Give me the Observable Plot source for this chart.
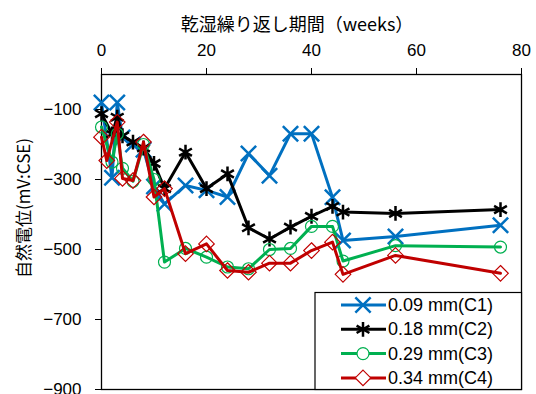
<!DOCTYPE html>
<html>
<head>
<meta charset="utf-8">
<script src="https://cdn.jsdelivr.net/npm/d3@7"></script>
<script src="https://cdn.jsdelivr.net/npm/@observablehq/plot@0.6"></script>
<style>
  body { margin: 0; background: white; }
  #chart { width: 536px; height: 394px; }
</style>
</head>
<body>
<div id="chart"></div>
<script>
const xLabel = "乾湿繰り返し期間（weeks）";
const yLabel = "自然電位(mV:CSE)";
const xTicks = [0, 20, 40, 60, 80];
const yTicks = [-100, -300, -500, -700, -900];

const seriesNames = ["0.09 mm(C1)", "0.18 mm(C2)", "0.29 mm(C3)", "0.34 mm(C4)"];
const seriesColors = ["#0070C0", "#000000", "#00B050", "#C00000"];
const seriesSymbols = ["times", "asterisk", "circle", "diamond2"];

const weeksC1 = [0, 2, 3, 4, 6, 8, 10, 12, 16, 20, 24, 28, 32, 36, 40, 44, 46, 56, 76];
const valuesC1 = [-80, -295, -80, -180, -200, -215, -320, -370, -317, -331, -350, -226, -289, -169, -169, -351, -474, -463, -431];

const weeksC2 = [0, 2, 3, 4, 6, 8, 10, 12, 16, 20, 24, 28, 32, 36, 40, 44, 46, 56, 76];
const valuesC2 = [-112, -170, -122, -175, -193, -210, -254, -326, -222, -326, -284, -438, -470, -436, -405, -377, -393, -397, -386];

const weeksC3 = [0, 2, 3, 4, 6, 8, 10, 12, 16, 20, 24, 28, 32, 36, 40, 44, 46, 56, 76];
const valuesC3 = [-150, -250, -170, -268, -305, -200, -300, -536, -497, -522, -550, -555, -500, -497, -434, -434, -533, -489, -493];

const weeksC4 = [0, 1, 3, 4, 6, 8, 10, 12, 16, 20, 24, 28, 32, 36, 40, 44, 46, 56, 76];
const valuesC4 = [-179, -246, -136, -297, -303, -193, -350, -326, -512, -484, -560, -565, -539, -539, -503, -479, -571, -517, -568];

const allWeeks = [weeksC1, weeksC2, weeksC3, weeksC4];
const allValues = [valuesC1, valuesC2, valuesC3, valuesC4];

const data = [];
allWeeks.forEach((ws, i) => ws.forEach((w, j) => data.push({series: seriesNames[i], week: w, value: allValues[i][j]})));

const seriesMarks = [];
seriesNames.forEach((name, i) => {
  const rows = data.filter(d => d.series === name);
  seriesMarks.push(Plot.line(rows, {x: "week", y: "value", stroke: seriesColors[i], strokeWidth: 3}));
  const isHollow = (i >= 2);
  seriesMarks.push(Plot.dot(rows, {
    x: "week", y: "value", symbol: () => seriesSymbols[i],
    stroke: seriesColors[i], fill: "none",
    r: i === 2 ? 6 : 7,
    strokeWidth: isHollow ? 1.2 : 2.5
  }));
});

const chart = Plot.plot({
  width: 536, height: 394,
  marginTop: 74, marginLeft: 101, marginRight: 15, marginBottom: 5,
  style: {fontFamily: "'Liberation Sans', Arial, sans-serif", fontSize: "17px", background: "white", color: "black", overflow: "visible"},
  x: {domain: [0, 80]},
  y: {domain: [-900, 0]},
  symbol: {type: "identity"},
  marks: [
    Plot.frame({stroke: "black", strokeWidth: 1.3}),
    Plot.axisX({anchor: "top", ticks: xTicks, tickSize: 7, tickPadding: 12, label: null, fontSize: 17}),
    Plot.axisY({ticks: yTicks, tickSize: 6, tickPadding: 14, label: null, fontSize: 17}),
    ...seriesMarks
  ]
});
document.getElementById("chart").appendChild(chart);

const svg = d3.select(chart);
svg.append("text")
  .attr("x", 297).attr("y", 23)
  .attr("text-anchor", "middle").attr("dominant-baseline", "central").attr("fill", "black")
  .style("font-family", "'Noto Sans CJK JP', sans-serif").style("font-size", "18px")
  .text(xLabel);
svg.append("text")
  .attr("transform", "translate(22,208) rotate(-90)")
  .attr("text-anchor", "middle").attr("dominant-baseline", "central").attr("fill", "black")
  .style("font-family", "'Noto Sans CJK JP', sans-serif").style("font-size", "17px")
  .text(yLabel);

// legend
const lg = svg.append("g");
lg.append("rect").attr("x", 315).attr("y", 292.5).attr("width", 206.5).attr("height", 97)
  .attr("fill", "white").attr("stroke", "black").attr("stroke-width", 1.2);
const symGen = (s, size) => d3.symbol(s === "times" ? d3.symbolTimes : s === "asterisk" ? d3.symbolAsterisk : s === "circle" ? d3.symbolCircle : d3.symbolDiamond2, size)();
seriesNames.forEach((name, i) => {
  const yy = 305 + i * 24.3;
  lg.append("line").attr("x1", 341).attr("x2", 386).attr("y1", yy).attr("y2", yy)
    .attr("stroke", seriesColors[i]).attr("stroke-width", 3);
  const r = i === 2 ? 6 : 7;
  lg.append("path").attr("d", symGen(seriesSymbols[i], Math.PI * r * r))
    .attr("transform", `translate(363,${yy})`)
    .attr("fill", i >= 2 ? "white" : "none").attr("stroke", seriesColors[i])
    .attr("stroke-width", i >= 2 ? 1.2 : 2.5);
  lg.append("text").attr("x", 388).attr("y", yy)
    .attr("text-anchor", "start").attr("dominant-baseline", "central").attr("fill", "black")
    .style("font-family", "'Liberation Sans', Arial, sans-serif").style("font-size", "18px")
    .text(name);
});
</script>
</body>
</html>
